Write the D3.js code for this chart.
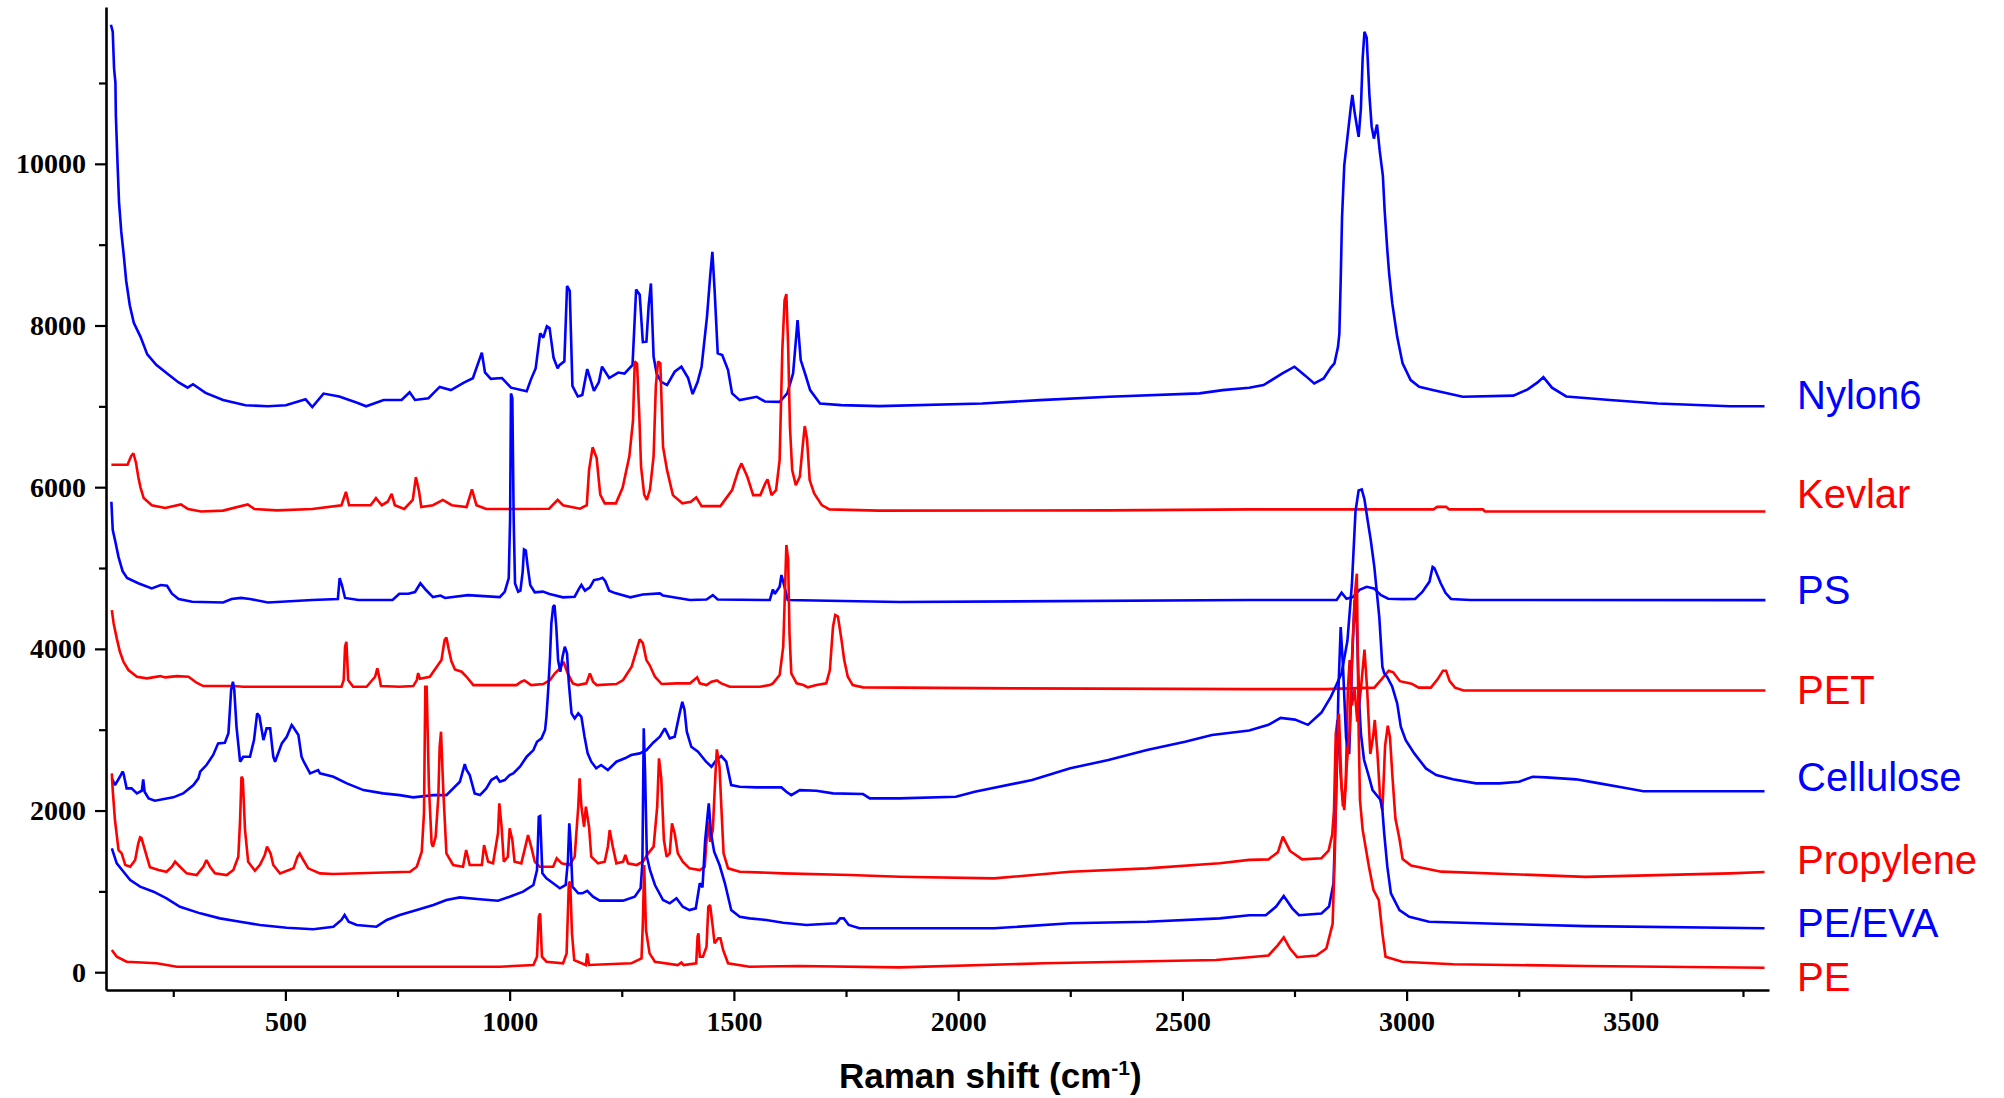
<!DOCTYPE html>
<html><head><meta charset="utf-8">
<script src="https://cdn.jsdelivr.net/npm/d3@7"></script>
<style>body{margin:0;background:#fff} svg{display:block}</style>
</head><body>
<svg id="c" width="2004" height="1098"></svg>
<script>
// ---- DATA: [Raman shift (cm-1), intensity] ----
const nylon6 = [[111,11720],[115,11634],[118,11179],[121,11005],[122,10594],[126,9964],[129,9530],[134,9161],[139,8901],[145,8554],[153,8250],[162,8033],[177,7860],[192,7643],[212,7513],[237,7404],[262,7296],[282,7231],[294,7274],[322,7166],[361,7079],[411,7014],[461,7001],[501,7014],[545,7087],[560,6992],[585,7158],[620,7122],[660,7044],[680,7001],[719,7079],[759,7079],[777,7175],[789,7079],[819,7101],[844,7240],[869,7201],[899,7296],[918,7348],[938,7665],[945,7420],[958,7340],[983,7350],[1003,7231],[1038,7188],[1048,7340],[1058,7469],[1068,7903],[1075,7850],[1083,7990],[1089,7970],[1098,7600],[1107,7470],[1111,7510],[1122,7556],[1128,8489],[1134,8430],[1140,7253],[1152,7122],[1162,7140],[1173,7461],[1188,7190],[1199,7300],[1206,7492],[1222,7350],[1242,7418],[1256,7405],[1274,7513],[1282,8446],[1290,8380],[1297,7795],[1305,7800],[1310,8250],[1315,8520],[1321,7613],[1328,7400],[1338,7304],[1351,7263],[1368,7428],[1383,7490],[1398,7350],[1408,7152],[1419,7300],[1428,7490],[1440,8108],[1447,8602],[1452,8912],[1457,8438],[1464,7655],[1474,7634],[1487,7448],[1496,7160],[1513,7077],[1551,7118],[1569,7060],[1602,7056],[1619,7160],[1632,7407],[1642,8067],[1649,7572],[1659,7400],[1670,7201],[1692,7036],[1739,7015],[1824,7003],[2054,7036],[2182,7077],[2336,7118],[2538,7160],[2590,7201],[2649,7231],[2681,7263],[2723,7407],[2750,7490],[2774,7380],[2794,7284],[2815,7345],[2831,7480],[2839,7531],[2847,7737],[2850,7900],[2853,8554],[2856,9335],[2861,9985],[2869,10376],[2876,10723],[2879,10853],[2884,10637],[2893,10333],[2898,10680],[2902,11309],[2906,11634],[2911,11560],[2917,10853],[2922,10463],[2927,10312],[2934,10485],[2940,10160],[2947,9855],[2951,9422],[2957,8930],[2961,8645],[2968,8273],[2979,7860],[2991,7531],[3009,7325],[3028,7242],[3058,7201],[3125,7118],[3238,7132],[3270,7210],[3292,7296],[3305,7362],[3324,7231],[3356,7122],[3453,7079],[3560,7035],[3721,7001],[3798,7001]];

const kevlar = [[112,6277],[148,6277],[156,6385],[161,6420],[167,6300],[172,6125],[177,5995],[184,5865],[202,5777],[232,5743],[267,5786],[283,5730],[312,5700],[361,5710],[416,5786],[431,5730],[481,5713],[560,5730],[625,5777],[635,5942],[642,5777],[690,5777],[702,5865],[715,5777],[728,5820],[737,5916],[744,5777],[765,5730],[784,5843],[791,6125],[798,5950],[803,5755],[829,5777],[851,5843],[871,5777],[904,5755],[916,5973],[926,5777],[948,5730],[1008,5730],[1088,5734],[1107,5843],[1119,5777],[1157,5734],[1172,5777],[1177,6211],[1185,6493],[1194,6360],[1202,5907],[1212,5800],[1237,5800],[1252,5995],[1267,6385],[1275,6819],[1279,7556],[1284,7530],[1289,6906],[1293,6255],[1300,5907],[1306,5843],[1313,5973],[1321,6385],[1326,7253],[1331,7556],[1336,7531],[1342,6500],[1351,6211],[1364,5902],[1385,5800],[1404,5820],[1416,5874],[1428,5766],[1470,5766],[1496,5964],[1510,6211],[1517,6294],[1530,6129],[1543,5902],[1559,5902],[1570,6047],[1575,6096],[1584,5902],[1594,5964],[1602,6335],[1608,7696],[1613,8314],[1617,8389],[1621,7737],[1625,6747],[1630,6211],[1638,6026],[1647,6129],[1654,6541],[1658,6756],[1663,6600],[1669,6088],[1679,5923],[1696,5778],[1713,5725],[1823,5710],[2336,5713],[2649,5725],[3060,5725],[3068,5757],[3088,5757],[3095,5725],[3170,5725],[3175,5700],[3800,5700]];

const ps = [[112,5820],[115,5474],[121,5322],[128,5135],[137,4962],[147,4876],[172,4811],[202,4747],[222,4789],[236,4780],[247,4682],[262,4617],[292,4582],[361,4574],[380,4617],[401,4630],[421,4617],[461,4574],[560,4604],[617,4617],[621,4876],[626,4790],[633,4630],[663,4604],[739,4604],[754,4682],[774,4682],[789,4703],[801,4811],[814,4725],[829,4640],[846,4660],[856,4630],[907,4665],[978,4640],[989,4706],[998,4876],[1001,5600],[1003,7160],[1006,7100],[1009,5600],[1012,4810],[1019,4706],[1024,4720],[1029,4950],[1032,5230],[1036,5216],[1040,5030],[1046,4789],[1056,4700],[1074,4708],[1089,4680],[1119,4637],[1145,4645],[1155,4748],[1160,4790],[1168,4720],[1179,4760],[1188,4851],[1198,4860],[1207,4880],[1213,4840],[1222,4720],[1235,4690],[1269,4637],[1297,4673],[1335,4686],[1342,4660],[1402,4604],[1439,4610],[1453,4665],[1464,4610],[1580,4604],[1587,4736],[1591,4680],[1602,4768],[1606,4913],[1611,4810],[1620,4604],[1869,4579],[2649,4604],[2844,4604],[2855,4695],[2866,4620],[2880,4640],[2895,4730],[2911,4768],[2927,4748],[2943,4665],[2959,4620],[2991,4615],[3019,4617],[3035,4703],[3051,4832],[3058,5015],[3062,5000],[3076,4811],[3087,4690],[3099,4617],[3142,4604],[3800,4603]];

const pet = [[113,4480],[117,4315],[124,4130],[131,3964],[139,3840],[150,3738],[169,3655],[191,3635],[221,3663],[232,3647],[258,3663],[284,3655],[302,3581],[317,3540],[384,3540],[406,3531],[625,3531],[630,3614],[633,4026],[636,4088],[640,3614],[651,3531],[681,3531],[700,3655],[705,3759],[710,3630],[713,3540],[755,3531],[785,3540],[793,3614],[796,3700],[800,3630],[822,3655],[848,3861],[855,4109],[859,4142],[864,4000],[870,3850],[878,3746],[893,3717],[904,3655],[919,3552],[1015,3552],[1026,3593],[1033,3610],[1048,3552],[1075,3565],[1090,3614],[1101,3697],[1112,3759],[1120,3840],[1130,3690],[1141,3573],[1152,3552],[1171,3573],[1179,3697],[1186,3593],[1194,3552],[1238,3565],[1253,3614],[1272,3779],[1283,3985],[1290,4117],[1297,4070],[1305,3861],[1312,3800],[1324,3655],[1339,3565],[1372,3573],[1402,3573],[1413,3623],[1418,3648],[1424,3573],[1439,3552],[1450,3593],[1462,3610],[1472,3573],[1491,3531],[1558,3531],[1580,3552],[1587,3573],[1602,3676],[1610,4026],[1614,4728],[1617,5285],[1621,5100],[1624,4192],[1628,3697],[1640,3573],[1655,3552],[1665,3524],[1684,3552],[1706,3573],[1714,3738],[1721,4273],[1726,4418],[1732,4400],[1740,4109],[1746,3861],[1754,3655],[1765,3552],[1788,3524],[2122,3511],[2649,3502],[2820,3502],[2928,3520],[2944,3623],[2960,3730],[2970,3710],[2985,3600],[3011,3570],[3027,3520],[3054,3520],[3069,3623],[3081,3730],[3088,3730],[3096,3600],[3108,3520],[3127,3484],[3800,3484]];

const cellulose = [[113,2398],[120,2315],[131,2418],[137,2480],[139,2460],[146,2274],[157,2274],[169,2212],[180,2245],[183,2386],[186,2233],[195,2150],[209,2121],[250,2163],[272,2212],[295,2315],[306,2398],[310,2480],[324,2563],[339,2687],[350,2831],[365,2839],[373,2955],[379,3491],[383,3593],[386,3491],[391,3036],[399,2604],[406,2666],[421,2666],[430,2872],[437,3202],[442,3170],[451,2872],[458,3016],[466,3016],[473,2666],[477,2604],[492,2831],[503,2913],[514,3057],[517,3036],[529,2934],[536,2666],[541,2604],[555,2460],[573,2501],[577,2460],[607,2418],[637,2336],[674,2253],[718,2212],[755,2191],[785,2163],[830,2191],[859,2191],[889,2356],[900,2575],[904,2501],[911,2439],[922,2212],[934,2191],[948,2274],[959,2377],[971,2418],[978,2356],[989,2377],[1000,2439],[1008,2460],[1023,2542],[1038,2666],[1053,2748],[1061,2851],[1071,2893],[1079,2996],[1082,3160],[1086,3491],[1090,3902],[1093,4315],[1097,4520],[1100,4541],[1104,4273],[1108,3861],[1113,3717],[1118,3902],[1123,4026],[1128,3944],[1132,3573],[1138,3202],[1145,3140],[1153,3202],[1160,3160],[1167,2913],[1174,2707],[1182,2604],[1193,2522],[1204,2563],[1219,2501],[1238,2604],[1257,2646],[1271,2687],[1290,2707],[1305,2748],[1320,2839],[1335,2913],[1346,3016],[1357,2893],[1368,2913],[1379,3202],[1385,3346],[1390,3243],[1395,2975],[1405,2789],[1420,2728],[1438,2604],[1450,2542],[1461,2625],[1472,2674],[1483,2604],[1494,2315],[1513,2294],[1550,2286],[1606,2286],[1617,2233],[1628,2191],[1647,2253],[1684,2245],[1721,2212],[1788,2204],[1803,2150],[1869,2150],[1995,2170],[2037,2233],[2165,2377],[2250,2522],[2335,2625],[2421,2748],[2506,2851],[2566,2934],[2649,2990],[2692,3060],[2719,3146],[2751,3125],[2780,3060],[2810,3212],[2831,3406],[2843,3550],[2855,3700],[2868,4100],[2878,4800],[2886,5700],[2893,5960],[2900,5973],[2906,5850],[2913,5593],[2920,5346],[2928,5015],[2939,4397],[2946,3776],[2950,3700],[2957,3650],[2968,3531],[2979,3325],[2987,3036],[2998,2870],[3017,2707],[3043,2521],[3066,2439],[3103,2386],[3155,2336],[3207,2336],[3251,2356],[3281,2418],[3311,2410],[3378,2386],[3430,2336],[3485,2282],[3528,2239],[3798,2239]];

const propylene = [[113,2460],[115,2253],[120,1882],[128,1511],[135,1470],[143,1326],[154,1305],[165,1388],[172,1594],[176,1668],[179,1660],[191,1429],[198,1298],[217,1264],[235,1243],[247,1305],[254,1367],[265,1305],[280,1223],[302,1202],[317,1305],[324,1388],[332,1305],[343,1223],[369,1202],[384,1264],[395,1429],[399,1882],[402,2418],[405,2390],[410,1758],[417,1367],[432,1255],[443,1326],[454,1449],[459,1553],[467,1470],[473,1326],[488,1223],[518,1285],[527,1429],[532,1470],[540,1388],[551,1285],[577,1223],[607,1215],[778,1243],[793,1305],[804,1490],[809,1965],[812,3531],[815,3531],[820,2294],[826,1594],[829,1553],[835,1676],[841,2170],[844,2789],[847,2975],[852,2253],[859,1470],[874,1326],[896,1305],[903,1511],[911,1326],[938,1326],[943,1573],[952,1367],[963,1347],[974,1718],[977,2088],[982,1800],[987,1367],[996,1429],[1000,1780],[1006,1635],[1011,1367],[1026,1347],[1035,1553],[1041,1697],[1048,1553],[1056,1367],[1067,1305],[1097,1305],[1105,1409],[1116,1347],[1134,1326],[1145,1429],[1153,2047],[1156,2398],[1160,2047],[1166,1800],[1170,2047],[1177,1800],[1182,1429],[1197,1347],[1212,1367],[1219,1553],[1223,1758],[1230,1553],[1238,1347],[1253,1367],[1258,1450],[1264,1347],[1283,1326],[1297,1367],[1309,1470],[1321,1553],[1329,2047],[1333,2646],[1338,2400],[1344,1635],[1350,1429],[1357,1470],[1362,1842],[1368,1717],[1375,1470],[1386,1367],[1401,1285],[1424,1264],[1435,1305],[1439,1635],[1442,1862],[1447,1614],[1453,1759],[1459,2460],[1462,2757],[1468,2540],[1472,2047],[1477,1470],[1487,1285],[1513,1243],[1610,1223],[1759,1202],[1870,1181],[2080,1161],[2250,1243],[2421,1285],[2583,1347],[2649,1390],[2692,1396],[2713,1483],[2724,1677],[2740,1500],[2767,1396],[2810,1410],[2826,1504],[2834,1700],[2838,2000],[2842,2950],[2846,3120],[2852,2500],[2858,2050],[2864,2300],[2869,3500],[2873,3860],[2878,3300],[2884,3500],[2890,3100],[2898,3500],[2906,3990],[2912,3500],[2919,2700],[2925,2900],[2929,3120],[2935,2700],[2941,2150],[2946,2000],[2952,2800],[2958,3050],[2963,2900],[2968,2450],[2975,1900],[2984,1650],[2991,1400],[3010,1320],[3077,1244],[3399,1180],[3721,1223],[3798,1240]];

const peEva = [[113,1532],[124,1347],[139,1243],[154,1140],[176,1058],[206,996],[235,914],[265,810],[310,728],[354,666],[399,625],[443,584],[503,551],[562,531],[607,563],[625,646],[632,707],[641,625],[659,584],[703,563],[726,646],[755,707],[793,769],[830,831],[859,893],[889,926],[934,902],[974,885],[1000,934],[1030,996],[1053,1079],[1061,1264],[1065,1923],[1068,1931],[1073,1223],[1082,1161],[1097,1100],[1112,1038],[1125,1079],[1130,1388],[1133,1841],[1136,1600],[1140,1058],[1153,976],[1162,976],[1173,1007],[1186,934],[1201,885],[1253,885],[1279,934],[1292,1038],[1296,1347],[1299,3017],[1302,2460],[1306,1429],[1313,1264],[1324,1079],[1342,893],[1357,852],[1372,914],[1386,810],[1401,769],[1415,790],[1424,1100],[1430,1050],[1436,1635],[1441,1923],[1444,2088],[1449,1717],[1456,1490],[1468,1326],[1480,1100],[1494,769],[1513,686],[1535,666],[1572,646],[1610,612],[1662,584],[1728,605],[1737,666],[1745,666],[1756,584],[1780,543],[2080,543],[2250,605],[2421,625],[2583,666],[2649,705],[2686,705],[2709,812],[2726,942],[2745,790],[2760,705],[2810,727],[2827,812],[2837,1100],[2843,2200],[2848,3500],[2853,4270],[2858,3800],[2865,2900],[2872,2700],[2878,3800],[2884,4600],[2889,4300],[2894,3367],[2898,2955],[2905,2628],[2916,2418],[2924,2253],[2942,2130],[2946,2006],[2950,1718],[2957,1305],[2965,976],[2984,769],[3006,686],[3050,625],[3200,600],[3400,570],[3798,544]];

const pe = [[113,275],[124,192],[146,130],[213,110],[258,68],[978,68],[1053,89],[1061,192],[1065,686],[1068,728],[1072,192],[1082,130],[1119,110],[1127,233],[1132,1100],[1135,1120],[1139,481],[1144,150],[1170,89],[1173,233],[1177,89],[1271,110],[1294,171],[1297,605],[1300,1326],[1304,522],[1312,233],[1324,130],[1375,89],[1383,120],[1388,89],[1416,110],[1419,439],[1421,481],[1424,192],[1431,192],[1439,316],[1443,810],[1447,831],[1452,605],[1457,357],[1465,419],[1470,419],[1476,275],[1487,110],[1535,68],[1646,77],[1869,60],[2191,110],[2575,151],[2649,186],[2692,207],[2713,336],[2726,432],[2740,292],[2756,186],[2799,207],[2821,293],[2835,600],[2840,1500],[2845,2800],[2849,3200],[2855,2300],[2861,2006],[2867,2600],[2873,3000],[2879,4000],[2885,4700],[2889,4930],[2893,3000],[2896,2130],[2902,1761],[2916,1305],[2926,1020],[2938,893],[2946,481],[2953,192],[2990,130],[3024,121],[3104,99],[3399,77],[3798,56]];

const seriesData = [nylon6, kevlar, ps, pet, cellulose, propylene, peEva, pe];
const seriesNames = ["Nylon6", "Kevlar", "PS", "PET", "Cellulose", "Propylene", "PE/EVA", "PE"];
const seriesColors = ["#0000ff", "#ff0000", "#0000ff", "#ff0000", "#0000ff", "#ff0000", "#0000ff", "#ff0000"];
const labelLevels = [6971, 5741, 4554, 3318, 2242, 1210, 432, -233];

const xMajorTicks = [500, 1000, 1500, 2000, 2500, 3000, 3500];
const xMinorTicks = [250, 750, 1250, 1750, 2250, 2750, 3250, 3750];
const yMajorTicks = [0, 2000, 4000, 6000, 8000, 10000];
const yMinorTicks = [1000, 3000, 5000, 7000, 9000, 11000];
const xTitle = "Raman shift (cm";
const xTitleSup = "-1";

// ---- DRAW ----
const svg = d3.select("#c");
const x = d3.scaleLinear().domain([100, 3808]).range([106, 1769]);
const y = d3.scaleLinear().domain([-220, 11940]).range([990, 7]);

const line = d3.line().x(d => x(d[0])).y(d => y(d[1]));

const gLines = svg.append("g");
seriesData.forEach((s, i) => {
  gLines.append("path").datum(s)
    .attr("d", line)
    .attr("fill", "none")
    .attr("stroke", seriesColors[i])
    .attr("stroke-width", 2.6)
    .attr("stroke-linejoin", "miter")
    .attr("stroke-miterlimit", 2);
});

const tickFont = g => g.selectAll("text")
  .attr("font-family", "'Liberation Serif','Times New Roman',serif")
  .attr("font-weight", "bold")
  .attr("font-size", 28)
  .attr("fill", "#000");

// x minor
svg.append("g").attr("transform", "translate(0,990)")
  .call(d3.axisBottom(x).tickValues(xMinorTicks).tickSize(7).tickFormat(""))
  .call(g => g.select(".domain").remove())
  .call(g => g.selectAll("line").attr("stroke-width", 2.2));
// x major
svg.append("g").attr("transform", "translate(0,990)")
  .call(d3.axisBottom(x).tickValues(xMajorTicks).tickSize(11).tickSizeOuter(0).tickPadding(10).tickFormat(d3.format("d")))
  .call(g => g.select(".domain").attr("stroke-width", 2.6))
  .call(g => g.selectAll("line").attr("stroke-width", 2.2))
  .call(tickFont);
// y minor
svg.append("g").attr("transform", "translate(106,0)")
  .call(d3.axisLeft(y).tickValues(yMinorTicks).tickSize(7).tickFormat(""))
  .call(g => g.select(".domain").remove())
  .call(g => g.selectAll("line").attr("stroke-width", 2.2));
// y major
svg.append("g").attr("transform", "translate(106,0)")
  .call(d3.axisLeft(y).tickValues(yMajorTicks).tickSize(11).tickSizeOuter(0).tickPadding(9).tickFormat(d3.format("d")))
  .call(g => g.select(".domain").attr("stroke-width", 2.6))
  .call(g => g.selectAll("line").attr("stroke-width", 2.2))
  .call(tickFont);

// axis title
const t = svg.append("text")
  .attr("x", 839).attr("y", 1088)
  .attr("font-family", "'Liberation Sans',Arial,sans-serif")
  .attr("font-weight", "bold")
  .attr("font-size", 35)
  .attr("fill", "#000");
t.append("tspan").text(xTitle);
t.append("tspan").attr("font-size", 21).attr("dy", -13).text(xTitleSup);
t.append("tspan").attr("dy", 13).text(")");

// series labels
svg.append("g").selectAll("text").data(seriesNames).join("text")
  .attr("x", 1797)
  .attr("y", (d, i) => y(labelLevels[i]))
  .attr("font-family", "'Liberation Sans',Arial,sans-serif")
  .attr("font-size", 40)
  .attr("fill", (d, i) => seriesColors[i])
  .text(d => d);
</script>
</body></html>
